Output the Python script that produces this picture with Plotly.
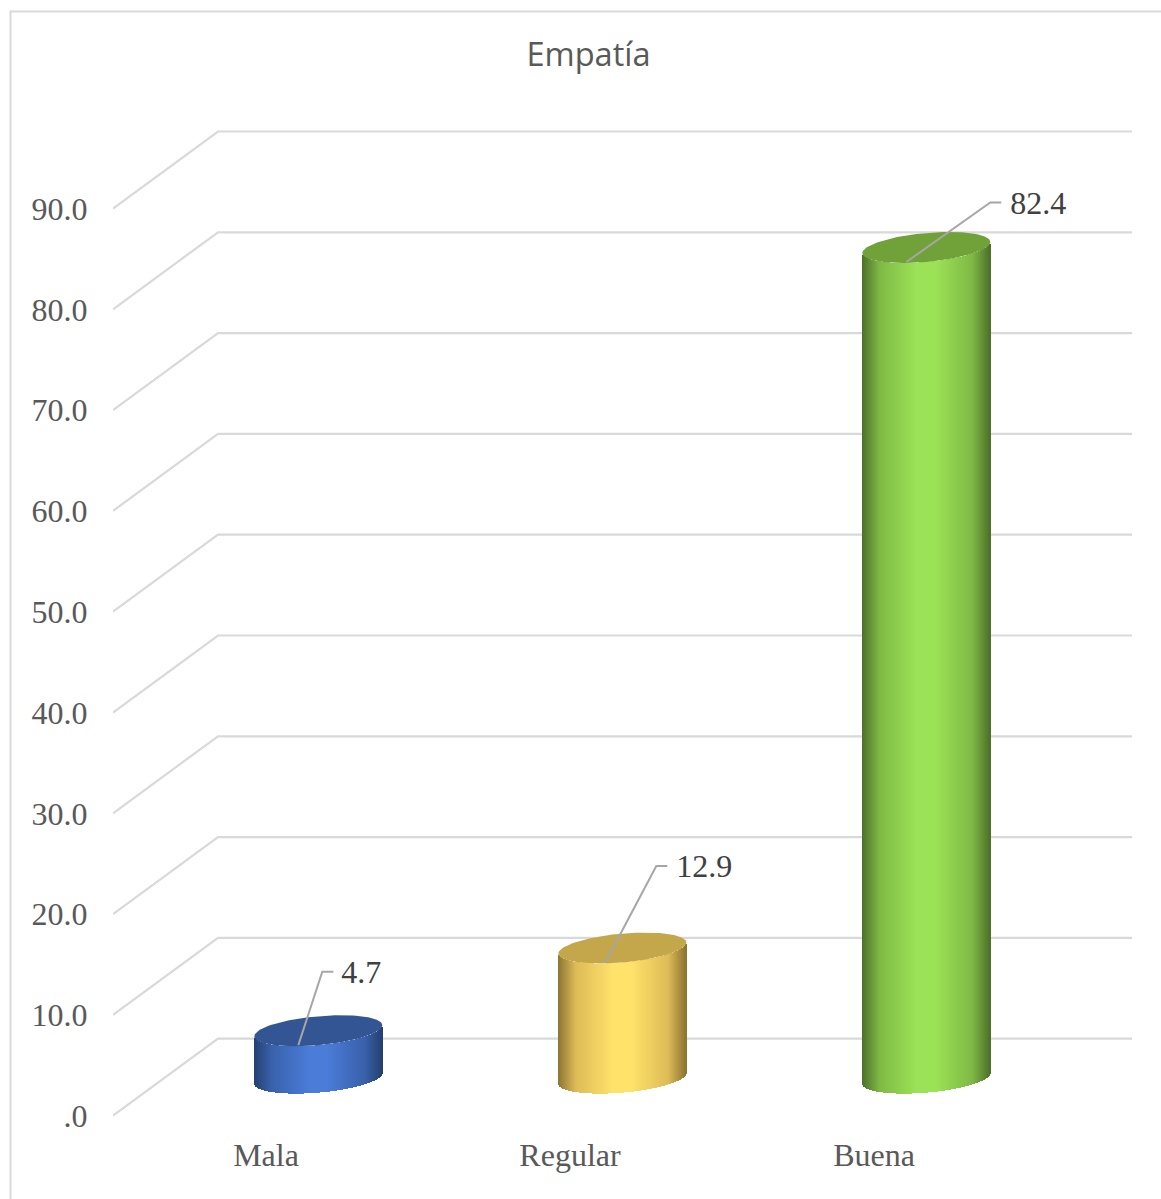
import numpy as np
import plotly.graph_objects as go

# --- data ---
categories = ["Mala", "Regular", "Buena"]
values = [4.7, 12.9, 82.4]
value_labels = ["4.7", "12.9", "82.4"]
y_ticks = [0, 10, 20, 30, 40, 50, 60, 70, 80, 90]
y_tick_labels = [".0", "10.0", "20.0", "30.0", "40.0", "50.0", "60.0", "70.0", "80.0", "90.0"]

# --- cylinder colours: edge -> mid -> centre, and the lid ---
edge_cols = [(38, 64, 112), (140, 116, 50), (78, 112, 42)]
mid_cols = [(58, 98, 172), (222, 188, 88), (128, 186, 70)]
centre_cols = [(74, 124, 216), (255, 226, 106), (156, 226, 86)]
lid_cols = ["#335593", "#c4a64b", "#71a239"]

# --- page geometry (pixels) ---
W, H = 1161, 1199
PX_L, PX_R, PX_T, PX_B = 113, 1132, 100, 1117
PX_ZERO = 1115.7
PX_PER_UNIT = 10.08
PX_PER_CAT = 304.0
PX_CAT0 = 266.0
y_range = [(PX_ZERO - PX_B) / PX_PER_UNIT, (PX_ZERO - PX_T) / PX_PER_UNIT]
x_range = [(PX_L - PX_CAT0) / PX_PER_CAT, (PX_R - PX_CAT0) / PX_PER_CAT]
ux = lambda px: px / PX_PER_CAT
uy = lambda px: px / PX_PER_UNIT

DEPTH_X, DEPTH_Y = ux(105), uy(77)
CENTRE_X, CENTRE_Y = ux(52.3), uy(37.6)
RAD_X, RAD_Y, TILT = ux(64), uy(14.5), uy(5.5)

# leader line geometry per label, in pixels
leader_start_dx = [-20, -17, -20]
leader_elbow = [(4, 59), (34, 82), (64, 45)]   # from the top-ellipse centre
LEADER_TAIL = 11
LABEL_GAP = [8, 9, 9]
LABEL_DROP = 3

fig = go.Figure()

# walls, on the lower subplot so that the cylinders cover them
gx, gy = [], []
for t in y_ticks:
    gx += [x_range[0], x_range[0] + DEPTH_X, x_range[1], None]
    gy += [t, t + DEPTH_Y, t + DEPTH_Y, None]
fig.add_trace(go.Scatter(x=gx, y=gy, mode="lines", hoverinfo="skip",
                         line=dict(color="#d9d9d9", width=2.2), showlegend=False))

def shade(t, i):
    """t: 0 at the left edge, 1 at the right edge."""
    d = abs(t - 0.5) * 2
    e, m, c = map(np.array, (edge_cols[i], mid_cols[i], centre_cols[i]))
    if d < 0.15:
        col = c
    elif d < 0.72:
        col = c + (m - c) * ((d - 0.15) / 0.57)
    else:
        col = m + (e - m) * ((d - 0.72) / 0.28)
    return "rgb(%d,%d,%d)" % tuple(col)

N = 128
for i, v in enumerate(values):
    cx = i + CENTRE_X
    top_c, base_c = v + CENTRE_Y, CENTRE_Y
    ts = (np.arange(N) + 0.5) / N
    c = ts * 2 - 1
    xs = cx + c * RAD_X
    bottoms = base_c + TILT * c - RAD_Y * np.sqrt(1 - c ** 2)
    tops = top_c + TILT * c - RAD_Y * np.sqrt(1 - c ** 2)
    fig.add_trace(go.Bar(x=xs, base=bottoms, y=tops - bottoms, width=2 * RAD_X / N,
                         marker=dict(color=[shade(t, i) for t in ts], line=dict(width=0)),
                         xaxis="x2", yaxis="y2", hoverinfo="skip", showlegend=False))
    a = np.linspace(0, 2 * np.pi, 121)
    fig.add_trace(go.Scatter(x=cx + RAD_X * np.cos(a),
                             y=top_c + TILT * np.cos(a) + RAD_Y * np.sin(a),
                             mode="lines", fill="toself", fillcolor=lid_cols[i],
                             line=dict(width=0, color=lid_cols[i]),
                             xaxis="x2", yaxis="y2", hoverinfo="skip", showlegend=False))
    # leader + label
    ex, ey = leader_elbow[i]
    lx = [cx + ux(leader_start_dx[i]), cx + ux(ex), cx + ux(ex + LEADER_TAIL)]
    ly = [top_c - uy(14.5), top_c + uy(ey), top_c + uy(ey)]
    fig.add_trace(go.Scatter(x=lx, y=ly, mode="lines", hoverinfo="skip",
                             xaxis="x2", yaxis="y2",
                             line=dict(color="#a6a6a6", width=2), showlegend=False))
    fig.add_trace(go.Scatter(x=[lx[-1] + ux(LABEL_GAP[i])], y=[ly[-1] - uy(LABEL_DROP)], mode="text",
                             text=[value_labels[i]], textposition="middle right",
                             textfont=dict(family="Liberation Serif", size=32, color="#404040"),
                             xaxis="x2", yaxis="y2", hoverinfo="skip", showlegend=False))

# chart frame: left and top edges only
fx = lambda p: (p - PX_L) / (PX_R - PX_L)
fy = lambda p: (PX_B - p) / (PX_B - PX_T)
fig.add_shape(type="path", xref="paper", yref="paper",
              path=f"M {fx(10.5)} {fy(H)} L {fx(10.5)} {fy(11.5)} L {fx(W)} {fy(11.5)}",
              line=dict(color="#d9d9d9", width=2))

fig.update_layout(
    width=W, height=H, barmode="overlay", bargap=0, showlegend=False,
    paper_bgcolor="white", plot_bgcolor="white",
    margin=dict(l=PX_L, r=W - PX_R, t=PX_T, b=H - PX_B, pad=0),
    title=dict(text="Empatía", x=588.5 / W, xanchor="center", y=1 - 55 / H, yanchor="middle",
               font=dict(family="Open Sans", size=32.6, color="#595959")),
    xaxis=dict(range=x_range, tickmode="array", tickvals=list(range(len(categories))),
               ticktext=categories, ticks="outside", ticklen=10, tickcolor="rgba(0,0,0,0)",
               showgrid=False, zeroline=False, showline=False,
               tickfont=dict(family="Liberation Serif", size=32, color="#595959")),
    yaxis=dict(range=y_range, tickmode="array", tickvals=y_ticks, ticktext=y_tick_labels,
               ticks="outside", ticklen=18, tickcolor="rgba(0,0,0,0)",
               showgrid=False, zeroline=False, showline=False,
               tickfont=dict(family="Liberation Serif", size=32, color="#595959")),
    xaxis2=dict(range=x_range, overlaying="x", visible=False),
    yaxis2=dict(range=y_range, overlaying="y", visible=False),
)

fig.write_html("out.html", config={"displayModeBar": False},
               post_script="document.body.style.margin='0';document.body.style.overflow='hidden';")
